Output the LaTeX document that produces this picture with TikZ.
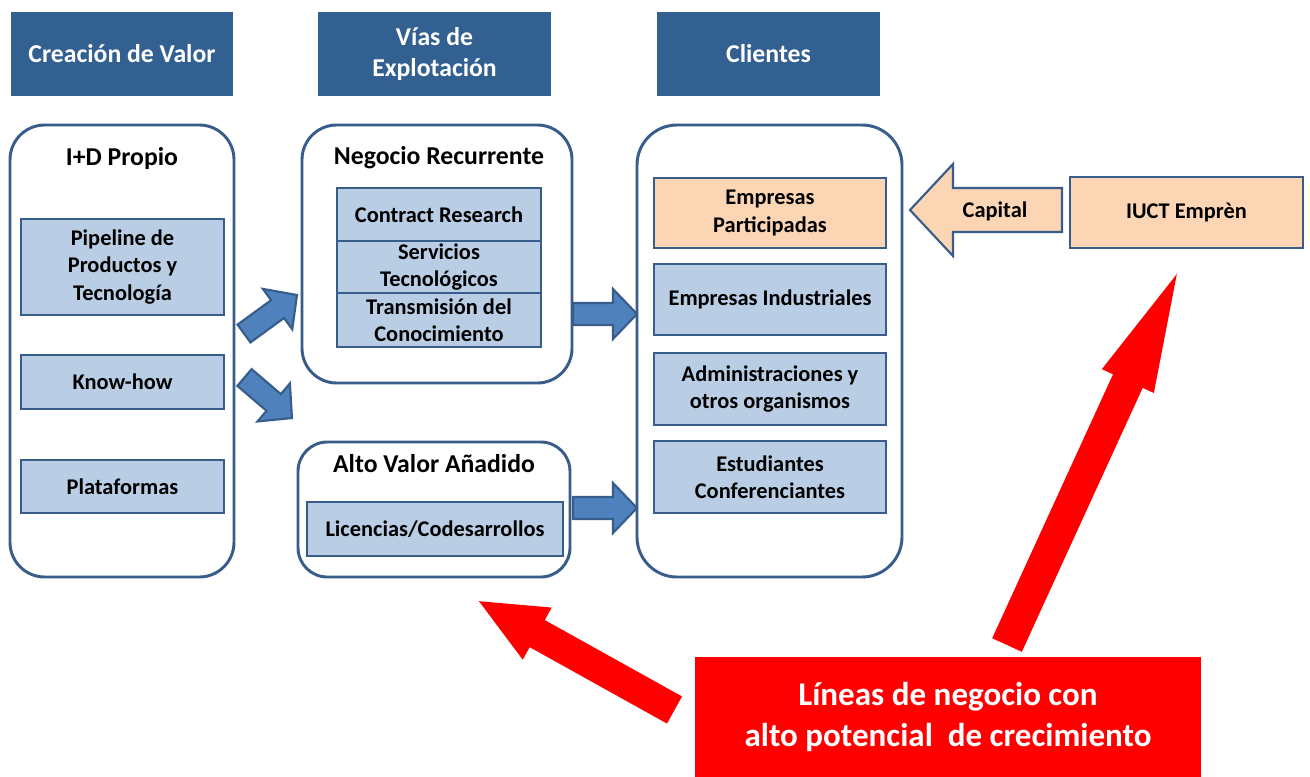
\documentclass[tikz,border=0pt]{standalone}
\usepackage{fontspec}
\setmainfont{Carlito}
\definecolor{hdrblue}{RGB}{50,96,145}
\definecolor{edge}{RGB}{56,93,138}
\definecolor{lightblue}{RGB}{185,205,229}
\definecolor{peach}{RGB}{252,213,181}
\definecolor{arrblue}{RGB}{79,129,189}
\definecolor{redc}{RGB}{255,0,0}
\newcommand\bodyfnt{\fontsize{16.8}{20.3}\selectfont\bfseries}
\newcommand\headfnt{\fontsize{19.3}{23.3}\selectfont\bfseries}
\newcommand\redfnt{\fontsize{24.8}{30.7}\selectfont\bfseries}
% block arrow: x, y, angle, length, shaft half width, head half width, head length, style
\newcommand\blockarrow[8]{%
  \begin{scope}[shift={(#1,#2)},rotate=#3]
    \path[#8] (0,-#5) -- ({#4-#7},-#5) -- ({#4-#7},-#6) -- (#4,0) -- ({#4-#7},#6) -- ({#4-#7},#5) -- (0,#5) -- cycle;
  \end{scope}}
\begin{document}
\begin{tikzpicture}[x=0.75pt,y=-0.75pt,
  sz/.style 2 args={minimum width=#1*0.75pt, minimum height=#2*0.75pt},
  hdr/.style={fill=hdrblue, text=white, font=\headfnt, inner sep=0pt, align=center},
  big/.style={draw=edge, line width=2.2pt, rounded corners=#1, fill=white, inner sep=0pt},
  big/.default=24pt,
  item/.style={draw=edge, line width=2.2pt, fill=lightblue, font=\bodyfnt, align=center, inner sep=0pt},
  pitem/.style={item, fill=peach},
  title/.style={font=\headfnt, inner sep=0pt},
  barrow/.style={fill=arrblue, draw=edge, line width=1.6pt, line join=miter},
  parrow/.style={fill=peach, draw=edge, line width=1.6pt, line join=miter},
  rarrow/.style={fill=redc}]
\useasboundingbox[fill=white] (0,0) rectangle (1310,776);

% headers
\node[hdr, sz={222}{84}] (h1) at (122,54) {Creación de Valor};
\node[hdr, sz={233}{84}] (h2) at (434.5,54) {Vías de\\Explotación};
\node[hdr, sz={223}{84}] (h3) at (768.5,54) {Clientes};

% left column
\node[big=26pt, sz={224}{452}] (idp) at (122,351) {};
\node[title] (idpt) at (122,158) {I+D Propio};
\node[item, sz={203}{96}] (pip) at (122.5,267) {Pipeline de\\Productos y\\Tecnología};
\node[item, sz={203}{54}] (kh) at (122.5,382) {Know-how};
\node[item, sz={203}{53}] (pla) at (122.5,486.5) {Plataformas};

% middle column
\node[big=26pt, sz={270}{258}] (neg) at (437,254) {};
\node[title] (negt) at (439,158) {Negocio Recurrente};
\node[item, sz={204}{53}] (cr) at (439,214.5) {Contract Research};
\node[item, sz={204}{52}] (st) at (439,267) {Servicios\\Tecnológicos};
\node[item, sz={204}{54}] (tc) at (439,320) {Transmisión del\\Conocimiento};

\node[big=22pt, sz={272}{135}] (alt) at (434,509.5) {};
\node[title] (altt) at (434,464) {Alto Valor Añadido};
\node[item, sz={256}{54}] (lic) at (435,529) {Licencias/Codesarrollos};

% right column
\node[big=30pt, sz={265}{452}] (cli) at (769.5,351) {};
\node[pitem, sz={232}{70}] (ep) at (770,213) {Empresas\\Participadas};
\node[item, sz={232}{71}] (ei) at (770,299.5) {Empresas Industriales};
\node[item, sz={232}{72}] (adm) at (770,389) {Administraciones y\\otros organismos};
\node[item, sz={232}{72}] (est) at (770,477) {Estudiantes\\Conferenciantes};

% IUCT
\node[pitem, sz={233}{71}] (iuct) at (1186.5,212.5) {IUCT Emprèn};

% blue block arrows
\blockarrow{244}{333.5}{36}{65.5}{11}{25}{24}{barrow}
\blockarrow{244.5}{377.5}{-40.5}{62.4}{11}{25}{24}{barrow}
\blockarrow{573}{314}{0}{64}{11}{25}{24}{barrow}
\blockarrow{573}{508}{0}{64}{11}{25}{24}{barrow}

% capital arrow
\blockarrow{1062}{210}{180}{152}{22}{46}{43}{parrow}
\node[font=\bodyfnt, inner sep=0pt] (cap) at (995,211) {Capital};

% red box and arrows
\node[fill=redc, sz={506}{120}, inner sep=0pt, text=white, font=\redfnt, align=center] (red) at (948,717) {Líneas de negocio con\\alto potencial\ \ de crecimiento};
\blockarrow{674.5}{710}{150.9}{223.8}{15.5}{29.8}{66.7}{rarrow}
\blockarrow{1007}{645}{65.4}{408}{16.3}{28.6}{117.7}{rarrow}
\end{tikzpicture}
\end{document}
